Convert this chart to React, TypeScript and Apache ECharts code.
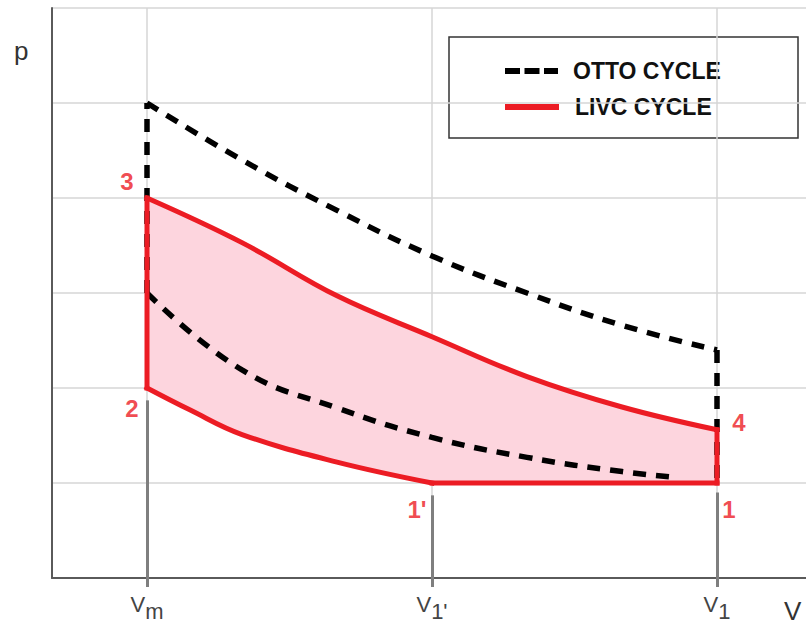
import React, { useEffect, useRef } from "react";
import * as echarts from "echarts";

// ---- data (grid units: x = volume, y = pressure) ----
const tickPositions = [1, 4, 7];
const tickSubscripts = ["m", "1'", "1"];
const tickLineTops = [1.87, 0.87, 0.9];

const ottoExpX = [1, 2, 3, 4, 5, 6, 7];
const ottoExpY = [5.0, 4.4, 3.87, 3.39, 3.0, 2.66, 2.4];
const ottoCompX = [1, 2, 3, 4, 5, 6, 6.55];
const ottoCompY = [3.0, 2.19, 1.79, 1.48, 1.27, 1.12, 1.06];

const livcExpX = [1, 2, 3, 4, 5, 6, 7];
const livcExpY = [4.0, 3.53, 2.97, 2.54, 2.12, 1.8, 1.56];
const livcCompX = [1, 1.45, 2, 3, 4];
const livcCompY = [2.0, 1.77, 1.51, 1.22, 1.0];
const pBottom = 1.0; // p at state 1 / 1'
const vm = 1;
const v1p = 4;
const v1 = 7;

const pointNames = ["1", "1'", "2", "3", "4"];
const pointX = [7, 4, 1, 1, 7];
const pointY = [1.0, 1.0, 2.0, 4.0, 1.56];

const legendNames = ["OTTO CYCLE", "LIVC CYCLE"];

// ---- derived paths ----
const zip = (xs: number[], ys: number[]) => xs.map((x, i) => [x, ys[i]]);
const ottoComp = zip(ottoCompX, ottoCompY);
const ottoExp = zip(ottoExpX, ottoExpY);
const livcComp = zip(livcCompX, livcCompY);
const livcExp = zip(livcExpX, livcExpY);

// LIVC closed path for the fill: 1 -> 1' -> 2 -> 3 -> 4 -> 1
const livcPath = [[v1, pBottom], ...[...livcComp].reverse(), ...livcExp, [v1, pBottom]];

const RED = "#ec1c24";
const labelOffsets: Record<string, number[]> = {
  "1": [12, 26],
  "1'": [-15, 26],
  "2": [-15, 20],
  "3": [-20, -17],
  "4": [22, -7],
};

export default function App() {
  const ref = useRef<HTMLDivElement>(null);
  useEffect(() => {
    if (!ref.current) return;
    const chart = echarts.init(ref.current, null, { renderer: "svg" });
    const font = "'Liberation Sans', Arial, sans-serif";
    const ottoStyle = { color: "#000", width: 5.5, type: [13, 10], cap: "butt" };
    const redStyle = { color: RED, width: 5, cap: "square", join: "miter" };
    const ottoLine = (data: number[][], smooth: number | boolean, name?: string) => ({
      type: "line",
      name,
      z: 3,
      data,
      smooth,
      showSymbol: false,
      symbol: "none",
      lineStyle: ottoStyle,
    });
    const redLine = (data: number[][], smooth: number | boolean, name?: string) => ({
      type: "line",
      name,
      z: 4,
      data,
      smooth,
      showSymbol: false,
      symbol: "none",
      lineStyle: redStyle,
    });
    chart.setOption({
      animation: false,
      backgroundColor: "#fff",
      grid: { left: 52, top: 8, width: 760, height: 570 },
      xAxis: {
        type: "value",
        min: 0,
        max: 8,
        interval: 1,
        axisLine: { show: true, lineStyle: { color: "#5a5a5a", width: 2 } },
        axisTick: {
          show: true,
          customValues: tickPositions,
          length: 9,
          lineStyle: { color: "#7f7f7f", width: 3 },
        },
        axisLabel: {
          show: true,
          customValues: tickPositions,
          margin: 8,
          formatter: (v: number) => {
            const i = tickPositions.indexOf(v);
            return i < 0 ? "" : `{a|V}{b|${tickSubscripts[i]}}`;
          },
          rich: {
            a: { fontSize: 22, color: "#444", fontFamily: font },
            b: { fontSize: 22, color: "#444", fontFamily: font, padding: [14, 0, 0, 0] },
          },
        },
        splitLine: { show: true, lineStyle: { color: "#d6d6d6", width: 1.5 } },
      },
      yAxis: {
        type: "value",
        min: 0,
        max: 6,
        interval: 1,
        axisLine: { show: true, lineStyle: { color: "#5a5a5a", width: 2 } },
        axisTick: { show: false },
        axisLabel: { show: false },
        splitLine: { show: true, lineStyle: { color: "#d6d6d6", width: 1.5 } },
      },
      series: [
        {
          type: "custom",
          name: "LIVC fill",
          z: 1,
          data: [0],
          renderItem: (_params: any, api: any) => ({
            type: "polygon",
            shape: { points: livcPath.map((p) => api.coord(p)) },
            style: { fill: "#fdd5de", stroke: "none" },
          }),
        },
        {
          type: "lines",
          coordinateSystem: "cartesian2d",
          z: 2,
          lineStyle: { color: "#7f7f7f", width: 3, opacity: 1 },
          data: tickPositions.map((x, i) => ({ coords: [[x, 0], [x, tickLineTops[i]]] })),
        },
        // Otto cycle (dashed)
        ottoLine(ottoComp, 0.45, legendNames[0]),
        ottoLine([[vm, ottoCompY[0]], [vm, ottoExpY[0]]], false),
        ottoLine(ottoExp, 0.45),
        ottoLine([[v1, ottoExpY[ottoExpY.length - 1]], [v1, pBottom]], false),
        // LIVC cycle (solid red)
        redLine([[v1, pBottom], [v1p, pBottom]], false, legendNames[1]),
        redLine(livcComp, 0.4),
        redLine([[vm, livcCompY[0]], [vm, livcExpY[0]]], false),
        redLine(livcExp, 0.4),
        redLine([[v1, livcExpY[livcExpY.length - 1]], [v1, pBottom]], false),
        {
          type: "scatter",
          z: 5,
          symbolSize: 0,
          data: pointNames.map((n, i) => ({
            name: n,
            value: [pointX[i], pointY[i]],
            label: {
              show: true,
              formatter: n,
              position: "inside",
              offset: labelOffsets[n],
              color: RED,
              fontSize: 24,
              fontWeight: "bold",
              fontFamily: font,
            },
          })),
        },
      ],
      graphic: [
        {
          type: "text",
          left: 14,
          top: 38,
          style: { text: "p", fontSize: 26, fill: "#333", fontFamily: font },
        },
        {
          type: "text",
          left: 784,
          top: 598,
          style: { text: "V", fontSize: 26, fill: "#333", fontFamily: font },
        },
        {
          type: "group",
          z: 100,
          children: [
            {
              type: "rect",
              shape: { x: 449, y: 37, width: 349, height: 101 },
              style: { fill: "#fff", stroke: "#333", lineWidth: 1.5 },
            },
            {
              type: "line",
              shape: { x1: 505, y1: 71, x2: 558, y2: 71 },
              style: { stroke: "#000", lineWidth: 6, lineDash: [15, 4.5] },
            },
            {
              type: "line",
              shape: { x1: 505, y1: 107, x2: 559, y2: 107 },
              style: { stroke: RED, lineWidth: 6 },
            },
            {
              type: "text",
              x: 573,
              y: 71,
              style: {
                text: legendNames[0],
                fontSize: 23,
                fontWeight: "bold",
                fill: "#111",
                fontFamily: font,
                verticalAlign: "middle",
              },
            },
            {
              type: "text",
              x: 575,
              y: 107,
              style: {
                text: legendNames[1],
                fontSize: 23,
                fontWeight: "bold",
                fill: "#111",
                fontFamily: font,
                verticalAlign: "middle",
              },
            },
          ],
        },
      ],
    });
    return () => chart.dispose();
  }, []);
  return (
    <div
      style={{
        position: "absolute",
        left: 0,
        top: 0,
        width: 806,
        height: 627,
        overflow: "hidden",
        background: "#fff",
      }}
    >
      <div ref={ref} style={{ width: 812, height: 627 }} />
    </div>
  );
}
